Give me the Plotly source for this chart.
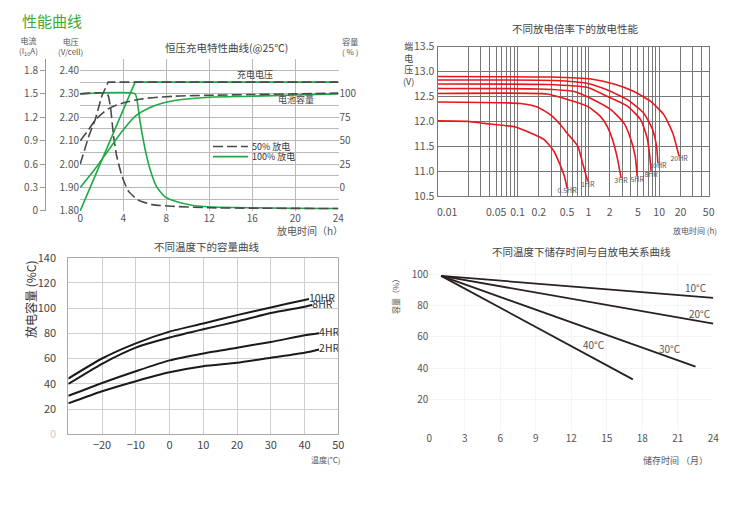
import plotly.graph_objects as go

# ---------- chart 1: 恒压充电特性曲线(@25℃) ----------
# charge voltage (V/cell)
volt_t_50 = [0, 0.8, 1.4, 2.0, 2.6, 24]
volt_v_50 = [2.00, 2.12, 2.19, 2.29, 2.35, 2.35]
volt_t_100 = [0, 5.1, 24]
volt_v_100 = [1.80, 2.35, 2.35]
# charge current (I10 A)
cur_t_50 = [0, 2.5, 2.8, 3.1, 3.4, 3.9, 4.5, 5.4, 6.7, 8.5, 12, 24]
cur_i_50 = [1.5, 1.5, 1.34, 0.96, 0.70, 0.44, 0.25, 0.14, 0.08, 0.06, 0.04, 0.03]
cur_t_100 = [0, 5.1, 5.27, 5.58, 6.05, 6.5, 7.1, 7.9, 8.7, 10.5, 12.4, 24]
cur_i_100 = [1.5, 1.5, 1.43, 1.13, 0.78, 0.53, 0.31, 0.18, 0.13, 0.07, 0.05, 0.03]
# battery capacity (%)
cap_t_50 = [0, 0.8, 1.4, 2.6, 3.9, 5.7, 8.8, 12, 16, 20, 24]
cap_c_50 = [50, 62, 72, 84, 90, 94.6, 97.5, 98.5, 99.3, 100, 100.8]
cap_t_100 = [0, 1.55, 2.64, 3.9, 5.1, 6.4, 7.6, 8.8, 12, 16, 20, 24]
cap_c_100 = [0, 22.5, 40, 60, 76, 85, 90, 93, 96.4, 97.5, 98.8, 100]

hours_ticks = [0, 4, 8, 12, 16, 20, 24]
volt_ticks = [1.80, 1.90, 2.00, 2.10, 2.20, 2.30, 2.40]
cur_ticks = [0, 0.3, 0.6, 0.9, 1.2, 1.5, 1.8]
cap_ticks = [0, 25, 50, 75, 100]

# ---------- chart 2: 不同放电倍率下的放电性能 ----------
rate_names = ['0.5HR', '1HR', '3HR', '5HR', '8HR', '10HR', '20HR']
rate_t = [
    [0.0074, 0.02, 0.034, 0.09, 0.156, 0.24, 0.33, 0.39, 0.46, 0.5],
    [0.0074, 0.11, 0.19, 0.3, 0.41, 0.51, 0.71, 0.83, 0.98],
    [0.0074, 0.26, 0.51, 0.98, 1.5, 1.86, 2.2, 2.54, 2.9],
    [0.0074, 0.2, 0.63, 1.2, 2.1, 3.2, 4.0, 4.6, 4.9],
    [0.0074, 0.26, 0.98, 1.86, 3.6, 5.5, 6.7, 7.3, 7.7],
    [0.0074, 0.33, 0.98, 1.86, 3.6, 6.1, 8.1, 9.2, 9.6],
    [0.0074, 0.3, 1.09, 2.3, 4.4, 7.6, 11.7, 15.6, 19.1],
]
rate_v = [
    [12.01, 12.0, 11.96, 11.89, 11.76, 11.63, 11.39, 11.16, 10.89, 10.66],
    [12.39, 12.36, 12.29, 12.12, 11.92, 11.75, 11.5, 11.16, 10.79],
    [12.56, 12.55, 12.44, 12.30, 12.09, 11.89, 11.63, 11.29, 10.86],
    [12.66, 12.65, 12.60, 12.43, 12.23, 11.96, 11.63, 11.29, 10.89],
    [12.75, 12.74, 12.68, 12.50, 12.30, 12.03, 11.69, 11.36, 10.99],
    [12.83, 12.82, 12.76, 12.63, 12.43, 12.16, 11.83, 11.49, 11.16],
    [12.90, 12.89, 12.85, 12.75, 12.60, 12.40, 12.13, 11.76, 11.30],
]
time_labels = {0.05: '0.05', 0.1: '0.1', 0.2: '0.2', 0.5: '0.5', 1: '1',
               2: '2', 5: '5', 10: '10', 20: '20', 50: '50'}
term_v_ticks = [10.5, 11.0, 11.5, 12.0, 12.5, 13.0, 13.5]

# ---------- chart 3: 不同温度下的容量曲线 ----------
temp_names = ['10HR', '8HR', '4HR', '2HR']
temp_x = [
    [-30, -20, -10, 0, 10, 20, 30, 40, 41.3],
    [-30, -20, -10, 0, 10, 20, 30, 40, 42.3],
    [-30, -20, -10, 0, 10, 20, 30, 40, 44.3],
    [-30, -20, -10, 0, 10, 20, 30, 40, 44.3],
]
temp_cap = [
    [44.2, 60.1, 72.1, 81.4, 87.8, 94.5, 100.6, 106.5, 107.3],
    [39.9, 55.9, 68.7, 76.7, 83.3, 89.4, 96.1, 101.1, 102.5],
    [30.5, 40.7, 50.0, 58.6, 64.1, 68.7, 73.2, 78.5, 80.1],
    [24.5, 34.1, 42.1, 49.2, 54.0, 56.7, 60.7, 64.7, 67.3],
]
temp_ticks = [-20, -10, 0, 10, 20, 30, 40, 50]
cap3_ticks = [0, 20, 40, 60, 80, 100, 120, 140]

# ---------- chart 4: 不同温度下储存时间与自放电关系曲线 ----------
store_names = ['10°C', '20°C', '30°C', '40°C']
store_m = [[1, 24], [1, 24], [1, 22.5], [1, 17.2]]
store_cap = [[99, 85], [99, 68.5], [99, 40.9], [99, 32.8]]
store_lbl_x = [22.5, 22.9, 20.3, 13.9]
store_lbl_y = [91.5, 75.1, 52.7, 54.8]
month_ticks = [0, 3, 6, 9, 12, 15, 18, 21, 24]
cap4_ticks = [20, 40, 60, 80, 100]

GREEN = '#1faa45'
DARK = '#4a4a4a'
RED = '#e8161e'
FONT = 'Noto Sans CJK SC, Noto Sans, sans-serif'

# the page puts the figure 8px in from the top-left corner
W, H, OFF = 750, 518, 8


def px(x):
    return (x - OFF) / W


def py(y):
    return 1 - (y - OFF) / H


fig = go.Figure()

# chart 1 - green (100%) first, dark dashed (50%) on top
line_g = dict(color=GREEN, width=1.6)
line_d = dict(color=DARK, width=1.6, dash='10px,4px')
fig.add_trace(go.Scatter(x=volt_t_100, y=volt_v_100, xaxis='x', yaxis='y', mode='lines', line=line_g))
fig.add_trace(go.Scatter(x=cur_t_100, y=cur_i_100, xaxis='x', yaxis='y2', mode='lines',
                         line=dict(line_g, shape='spline', smoothing=0.6)))
fig.add_trace(go.Scatter(x=cap_t_100, y=cap_c_100, xaxis='x', yaxis='y3', mode='lines',
                         line=dict(line_g, shape='spline', smoothing=0.8)))
fig.add_trace(go.Scatter(x=volt_t_50, y=volt_v_50, xaxis='x', yaxis='y', mode='lines', line=line_d))
fig.add_trace(go.Scatter(x=cur_t_50, y=cur_i_50, xaxis='x', yaxis='y2', mode='lines',
                         line=dict(line_d, shape='spline', smoothing=0.6)))
fig.add_trace(go.Scatter(x=cap_t_50, y=cap_c_50, xaxis='x', yaxis='y3', mode='lines',
                         line=dict(line_d, shape='spline', smoothing=0.8)))

# chart 2
for name, tt, vv in zip(rate_names, rate_t, rate_v):
    fig.add_trace(go.Scatter(x=tt, y=vv, xaxis='x2', yaxis='y4', mode='lines+text',
                             line=dict(color=RED, width=1.6, shape='spline', smoothing=0.5),
                             text=[''] * (len(tt) - 1) + [name], textposition='bottom center',
                             textfont=dict(size=7, color='#555')))

# chart 3
for name, xx, yy in zip(temp_names, temp_x, temp_cap):
    fig.add_trace(go.Scatter(x=xx, y=yy, xaxis='x3', yaxis='y5', mode='lines+text',
                             line=dict(color='#1a1a1a', width=2, shape='spline', smoothing=0.6),
                             text=[''] * (len(xx) - 1) + [name], textposition='middle right',
                             textfont=dict(size=10.5, color='#333')))

# chart 4
for name, xx, yy in zip(store_names, store_m, store_cap):
    fig.add_trace(go.Scatter(x=xx, y=yy, xaxis='x4', yaxis='y6', mode='lines',
                             line=dict(color='#2a2020', width=1.8)))

fig.update_traces(showlegend=False, hoverinfo='skip', cliponaxis=False)

tick_font = dict(size=10, color='#555')
grid_x2 = [round(m * d, 4) for d in (0.01, 0.1, 1, 10) for m in range(1, 10)
           if 0.01 < m * d <= 50]

fig.update_layout(
    width=W, height=H,
    margin=dict(l=0, r=0, t=0, b=0, pad=0, autoexpand=False),
    paper_bgcolor='white', plot_bgcolor='white',
    font=dict(family=FONT, size=10, color='#555'),
    showlegend=False,
    # chart 1
    xaxis=dict(domain=[px(80), px(338.5)], range=[-0.02, 24.02], tickvals=hours_ticks,
               showgrid=True, gridcolor='#b8b8b8', gridwidth=1, zeroline=False,
               showline=False, anchor='y', tickfont=tick_font, automargin=False),
    yaxis=dict(domain=[py(211), py(59)], range=[1.7995, 2.449], tickvals=volt_ticks,
               ticktext=['%.2f' % v for v in volt_ticks], showgrid=True,
               gridcolor='#b8b8b8', minor=dict(dtick=0.05, tick0=1.8, showgrid=True,
                                               gridcolor='#b8b8b8'),
               zeroline=False, anchor='x', tickfont=tick_font, automargin=False),
    yaxis2=dict(overlaying='y', anchor='free', position=px(45), side='left',
                range=[-0.0015, 1.947], tickvals=cur_ticks,
                ticktext=['%g' % v for v in cur_ticks], showgrid=False, zeroline=False,
                showline=True, linecolor='#999', ticks='outside', ticklen=5,
                tickcolor='#999', tickfont=tick_font, automargin=False),
    yaxis3=dict(overlaying='y', anchor='x', side='right', range=[-25.125, 137.25],
                tickvals=cap_ticks, showgrid=False, zeroline=False, tickfont=tick_font,
                automargin=False),
    # chart 2
    xaxis2=dict(domain=[px(437.5), px(709)], type='log', range=[-2.13, 1.704],
                tickvals=grid_x2, ticktext=[time_labels.get(v, '') for v in grid_x2],
                showgrid=True, gridcolor='#777', gridwidth=1, zeroline=False,
                showline=True, mirror=True, linecolor='#777', anchor='y4',
                ticklabelstandoff=6, tickfont=dict(size=10.5, color='#555'), automargin=False),
    yaxis4=dict(domain=[py(196), py(46.7)], range=[10.5, 13.5], tickvals=term_v_ticks,
                ticktext=['%.1f' % v for v in term_v_ticks], showgrid=True,
                gridcolor='#777', zeroline=False, showline=True, mirror=True,
                linecolor='#777', anchor='x2', tickfont=dict(size=10.5, color='#555'),
                automargin=False),
    # chart 3
    xaxis3=dict(domain=[px(68.3), px(338.3)], range=[-30, 50], tickvals=temp_ticks,
                showgrid=True, gridcolor='#cfcfcf', zeroline=False, showline=True,
                mirror=True, linecolor='#aaa', anchor='y5',
                tickfont=dict(size=11, color='#444'), automargin=False),
    yaxis5=dict(domain=[py(434.3), py(257.7)], range=[0, 140], tickvals=cap3_ticks,
                ticktext=["<span style='color:#ccc'>0</span>"] + [str(v) for v in cap3_ticks[1:]],
                showgrid=True, gridcolor='#cfcfcf', zeroline=False, showline=True,
                mirror=True, linecolor='#aaa', anchor='x3', ticklabelstandoff=9,
                tickfont=dict(size=11, color='#444'), automargin=False),
    # chart 4
    xaxis4=dict(domain=[px(429.3), px(713.3)], range=[0, 24], tickvals=month_ticks,
                showgrid=True, gridcolor='#f4f4f4', zeroline=False, showline=False,
                anchor='y6', tickfont=tick_font, automargin=False),
    yaxis6=dict(domain=[py(430.6), py(261.85)], range=[0, 108], tickvals=cap4_ticks,
                showgrid=True, gridcolor='#f4f4f4', zeroline=False, showline=False,
                anchor='x4', tickfont=tick_font, automargin=False),
)

# legend of chart 1 (drawn by hand, like the picture)
fig.add_shape(type='line', xref='x', yref='y', x0=12.35, x1=15.6, y0=2.075, y1=2.075,
              line=dict(color=DARK, width=1.6, dash='10px,4px'))
fig.add_shape(type='line', xref='x', yref='y', x0=12.35, x1=15.6, y0=2.032, y1=2.032,
              line=dict(color=GREEN, width=1.6))


def note(text, x, y, size=9, color='#444', xref='paper', yref='paper', xanchor='center',
         angle=0, yanchor='middle'):
    fig.add_annotation(text=text, x=x, y=y, xref=xref, yref=yref, showarrow=False,
                       xanchor=xanchor, yanchor=yanchor, textangle=angle,
                       font=dict(size=size, color=color, family=FONT))


note('50% 放电', 15.8, 2.075, xref='x', yref='y', xanchor='left', color='#333')
note('100% 放电', 15.8, 2.032, xref='x', yref='y', xanchor='left', color='#333')
note('充电电压', 16.3, 2.381, xref='x', yref='y', color='#444')
note('电池容量', 20.1, 2.274, xref='x', yref='y', color='#444')

note('性能曲线', px(20), py(8), size=15, color='#3aa935', xanchor='left', yanchor='top')
note('恒压充电特性曲线(@25℃)', px(226.7), py(48), size=10.5)
note('电流<br>(I<sub>10</sub>A)', px(28), py(47), size=8, color='#555')
note('电压<br>(V/cell)', px(70), py(47), size=8, color='#555')
note('容量<br>( % )', px(350), py(47), size=8, color='#555')
note('放电时间（h）', px(310), py(230), size=10, color='#555')

note('不同放电倍率下的放电性能', px(575), py(28), size=10.5)
note('端<br>电<br>压<br>(V)', px(409), py(64), size=9, color='#444')
note('放电时间 (h)', px(695), py(230), size=8, color='#555')
note('0.01', px(447), py(211.5), size=10.5, color='#555')

note('不同温度下的容量曲线', px(206.7), py(246.7), size=10.5)
note('放电容量 (%C)', px(30), py(299), size=12, color='#333', angle=-90)
note('温度(°C)', px(325), py(459), size=8, color='#555')

note('不同温度下储存时间与自放电关系曲线', px(581.7), py(251), size=10.5)
note('容量（%）', px(395), py(295), size=8, color='#555', angle=-90)
note('储存时间 （月）', px(675), py(460), size=9, color='#555')
for name, lx, ly in zip(store_names, store_lbl_x, store_lbl_y):
    note(name, lx, ly, xref='x4', yref='y6', size=10, color='#555')

fig.write_html("out.html")
